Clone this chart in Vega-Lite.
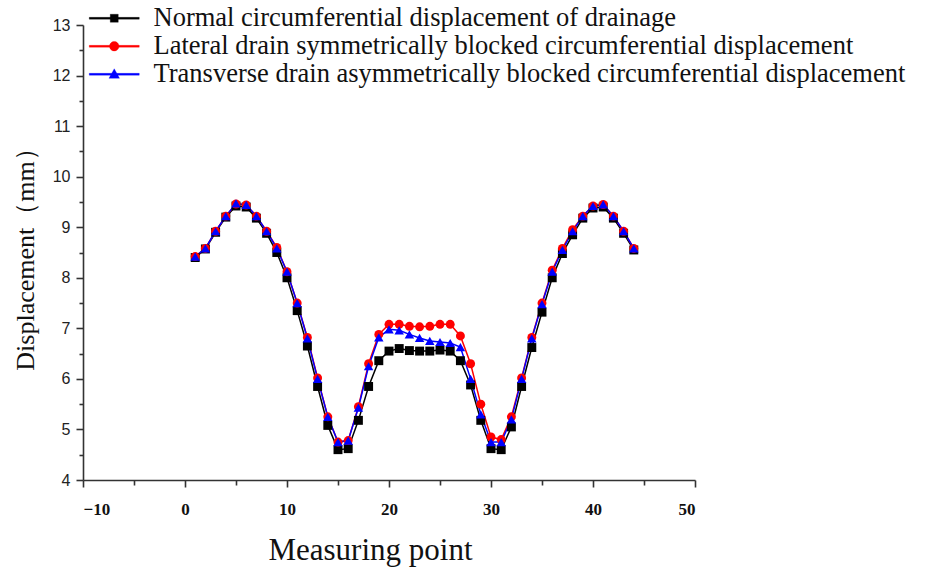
{
  "$schema": "https://vega.github.io/schema/vega-lite/v6.json",
  "width": 612,
  "height": 455,
  "autosize": {"type": "none"},
  "padding": {"left": 83, "top": 25, "right": 235, "bottom": 88},
  "background": "white",
  "config": {"view": {"stroke": null}},
  "datasets": {"d": [
    {"x":1,"s":"Normal circumferential displacement of drainage","y":8.4},
    {"x":2,"s":"Normal circumferential displacement of drainage","y":8.57},
    {"x":3,"s":"Normal circumferential displacement of drainage","y":8.9},
    {"x":4,"s":"Normal circumferential displacement of drainage","y":9.2},
    {"x":5,"s":"Normal circumferential displacement of drainage","y":9.42},
    {"x":6,"s":"Normal circumferential displacement of drainage","y":9.4},
    {"x":7,"s":"Normal circumferential displacement of drainage","y":9.18},
    {"x":8,"s":"Normal circumferential displacement of drainage","y":8.88},
    {"x":9,"s":"Normal circumferential displacement of drainage","y":8.5},
    {"x":10,"s":"Normal circumferential displacement of drainage","y":8.0},
    {"x":11,"s":"Normal circumferential displacement of drainage","y":7.35},
    {"x":12,"s":"Normal circumferential displacement of drainage","y":6.65},
    {"x":13,"s":"Normal circumferential displacement of drainage","y":5.85},
    {"x":14,"s":"Normal circumferential displacement of drainage","y":5.08},
    {"x":15,"s":"Normal circumferential displacement of drainage","y":4.6},
    {"x":16,"s":"Normal circumferential displacement of drainage","y":4.62},
    {"x":17,"s":"Normal circumferential displacement of drainage","y":5.18},
    {"x":18,"s":"Normal circumferential displacement of drainage","y":5.85},
    {"x":19,"s":"Normal circumferential displacement of drainage","y":6.36},
    {"x":20,"s":"Normal circumferential displacement of drainage","y":6.55},
    {"x":21,"s":"Normal circumferential displacement of drainage","y":6.6},
    {"x":22,"s":"Normal circumferential displacement of drainage","y":6.56},
    {"x":23,"s":"Normal circumferential displacement of drainage","y":6.55},
    {"x":24,"s":"Normal circumferential displacement of drainage","y":6.55},
    {"x":25,"s":"Normal circumferential displacement of drainage","y":6.57},
    {"x":26,"s":"Normal circumferential displacement of drainage","y":6.55},
    {"x":27,"s":"Normal circumferential displacement of drainage","y":6.36},
    {"x":28,"s":"Normal circumferential displacement of drainage","y":5.88},
    {"x":29,"s":"Normal circumferential displacement of drainage","y":5.18},
    {"x":30,"s":"Normal circumferential displacement of drainage","y":4.62},
    {"x":31,"s":"Normal circumferential displacement of drainage","y":4.6},
    {"x":32,"s":"Normal circumferential displacement of drainage","y":5.05},
    {"x":33,"s":"Normal circumferential displacement of drainage","y":5.85},
    {"x":34,"s":"Normal circumferential displacement of drainage","y":6.62},
    {"x":35,"s":"Normal circumferential displacement of drainage","y":7.32},
    {"x":36,"s":"Normal circumferential displacement of drainage","y":8.0},
    {"x":37,"s":"Normal circumferential displacement of drainage","y":8.48},
    {"x":38,"s":"Normal circumferential displacement of drainage","y":8.85},
    {"x":39,"s":"Normal circumferential displacement of drainage","y":9.18},
    {"x":40,"s":"Normal circumferential displacement of drainage","y":9.38},
    {"x":41,"s":"Normal circumferential displacement of drainage","y":9.4},
    {"x":42,"s":"Normal circumferential displacement of drainage","y":9.18},
    {"x":43,"s":"Normal circumferential displacement of drainage","y":8.88},
    {"x":44,"s":"Normal circumferential displacement of drainage","y":8.55},
    {"x":1,"s":"Lateral drain symmetrically blocked circumferential displacement","y":8.42},
    {"x":2,"s":"Lateral drain symmetrically blocked circumferential displacement","y":8.58},
    {"x":3,"s":"Lateral drain symmetrically blocked circumferential displacement","y":8.92},
    {"x":4,"s":"Lateral drain symmetrically blocked circumferential displacement","y":9.22},
    {"x":5,"s":"Lateral drain symmetrically blocked circumferential displacement","y":9.46},
    {"x":6,"s":"Lateral drain symmetrically blocked circumferential displacement","y":9.44},
    {"x":7,"s":"Lateral drain symmetrically blocked circumferential displacement","y":9.22},
    {"x":8,"s":"Lateral drain symmetrically blocked circumferential displacement","y":8.92},
    {"x":9,"s":"Lateral drain symmetrically blocked circumferential displacement","y":8.6},
    {"x":10,"s":"Lateral drain symmetrically blocked circumferential displacement","y":8.12},
    {"x":11,"s":"Lateral drain symmetrically blocked circumferential displacement","y":7.5},
    {"x":12,"s":"Lateral drain symmetrically blocked circumferential displacement","y":6.82},
    {"x":13,"s":"Lateral drain symmetrically blocked circumferential displacement","y":6.02},
    {"x":14,"s":"Lateral drain symmetrically blocked circumferential displacement","y":5.25},
    {"x":15,"s":"Lateral drain symmetrically blocked circumferential displacement","y":4.75},
    {"x":16,"s":"Lateral drain symmetrically blocked circumferential displacement","y":4.78},
    {"x":17,"s":"Lateral drain symmetrically blocked circumferential displacement","y":5.45},
    {"x":18,"s":"Lateral drain symmetrically blocked circumferential displacement","y":6.3},
    {"x":19,"s":"Lateral drain symmetrically blocked circumferential displacement","y":6.88},
    {"x":20,"s":"Lateral drain symmetrically blocked circumferential displacement","y":7.08},
    {"x":21,"s":"Lateral drain symmetrically blocked circumferential displacement","y":7.08},
    {"x":22,"s":"Lateral drain symmetrically blocked circumferential displacement","y":7.04},
    {"x":23,"s":"Lateral drain symmetrically blocked circumferential displacement","y":7.03},
    {"x":24,"s":"Lateral drain symmetrically blocked circumferential displacement","y":7.04},
    {"x":25,"s":"Lateral drain symmetrically blocked circumferential displacement","y":7.08},
    {"x":26,"s":"Lateral drain symmetrically blocked circumferential displacement","y":7.08},
    {"x":27,"s":"Lateral drain symmetrically blocked circumferential displacement","y":6.85},
    {"x":28,"s":"Lateral drain symmetrically blocked circumferential displacement","y":6.3},
    {"x":29,"s":"Lateral drain symmetrically blocked circumferential displacement","y":5.5},
    {"x":30,"s":"Lateral drain symmetrically blocked circumferential displacement","y":4.85},
    {"x":31,"s":"Lateral drain symmetrically blocked circumferential displacement","y":4.8},
    {"x":32,"s":"Lateral drain symmetrically blocked circumferential displacement","y":5.25},
    {"x":33,"s":"Lateral drain symmetrically blocked circumferential displacement","y":6.02},
    {"x":34,"s":"Lateral drain symmetrically blocked circumferential displacement","y":6.82},
    {"x":35,"s":"Lateral drain symmetrically blocked circumferential displacement","y":7.5},
    {"x":36,"s":"Lateral drain symmetrically blocked circumferential displacement","y":8.15},
    {"x":37,"s":"Lateral drain symmetrically blocked circumferential displacement","y":8.58},
    {"x":38,"s":"Lateral drain symmetrically blocked circumferential displacement","y":8.95},
    {"x":39,"s":"Lateral drain symmetrically blocked circumferential displacement","y":9.22},
    {"x":40,"s":"Lateral drain symmetrically blocked circumferential displacement","y":9.42},
    {"x":41,"s":"Lateral drain symmetrically blocked circumferential displacement","y":9.45},
    {"x":42,"s":"Lateral drain symmetrically blocked circumferential displacement","y":9.22},
    {"x":43,"s":"Lateral drain symmetrically blocked circumferential displacement","y":8.92},
    {"x":44,"s":"Lateral drain symmetrically blocked circumferential displacement","y":8.58},
    {"x":1,"s":"Transverse drain asymmetrically blocked circumferential displacement","y":8.42},
    {"x":2,"s":"Transverse drain asymmetrically blocked circumferential displacement","y":8.58},
    {"x":3,"s":"Transverse drain asymmetrically blocked circumferential displacement","y":8.92},
    {"x":4,"s":"Transverse drain asymmetrically blocked circumferential displacement","y":9.22},
    {"x":5,"s":"Transverse drain asymmetrically blocked circumferential displacement","y":9.47},
    {"x":6,"s":"Transverse drain asymmetrically blocked circumferential displacement","y":9.44},
    {"x":7,"s":"Transverse drain asymmetrically blocked circumferential displacement","y":9.22},
    {"x":8,"s":"Transverse drain asymmetrically blocked circumferential displacement","y":8.92},
    {"x":9,"s":"Transverse drain asymmetrically blocked circumferential displacement","y":8.58},
    {"x":10,"s":"Transverse drain asymmetrically blocked circumferential displacement","y":8.12},
    {"x":11,"s":"Transverse drain asymmetrically blocked circumferential displacement","y":7.5},
    {"x":12,"s":"Transverse drain asymmetrically blocked circumferential displacement","y":6.8},
    {"x":13,"s":"Transverse drain asymmetrically blocked circumferential displacement","y":6.0},
    {"x":14,"s":"Transverse drain asymmetrically blocked circumferential displacement","y":5.25},
    {"x":15,"s":"Transverse drain asymmetrically blocked circumferential displacement","y":4.75},
    {"x":16,"s":"Transverse drain asymmetrically blocked circumferential displacement","y":4.78},
    {"x":17,"s":"Transverse drain asymmetrically blocked circumferential displacement","y":5.43},
    {"x":18,"s":"Transverse drain asymmetrically blocked circumferential displacement","y":6.25},
    {"x":19,"s":"Transverse drain asymmetrically blocked circumferential displacement","y":6.82},
    {"x":20,"s":"Transverse drain asymmetrically blocked circumferential displacement","y":6.98},
    {"x":21,"s":"Transverse drain asymmetrically blocked circumferential displacement","y":6.96},
    {"x":22,"s":"Transverse drain asymmetrically blocked circumferential displacement","y":6.88},
    {"x":23,"s":"Transverse drain asymmetrically blocked circumferential displacement","y":6.81},
    {"x":24,"s":"Transverse drain asymmetrically blocked circumferential displacement","y":6.75},
    {"x":25,"s":"Transverse drain asymmetrically blocked circumferential displacement","y":6.73},
    {"x":26,"s":"Transverse drain asymmetrically blocked circumferential displacement","y":6.71},
    {"x":27,"s":"Transverse drain asymmetrically blocked circumferential displacement","y":6.63},
    {"x":28,"s":"Transverse drain asymmetrically blocked circumferential displacement","y":6.0},
    {"x":29,"s":"Transverse drain asymmetrically blocked circumferential displacement","y":5.3},
    {"x":30,"s":"Transverse drain asymmetrically blocked circumferential displacement","y":4.75},
    {"x":31,"s":"Transverse drain asymmetrically blocked circumferential displacement","y":4.75},
    {"x":32,"s":"Transverse drain asymmetrically blocked circumferential displacement","y":5.2},
    {"x":33,"s":"Transverse drain asymmetrically blocked circumferential displacement","y":6.0},
    {"x":34,"s":"Transverse drain asymmetrically blocked circumferential displacement","y":6.8},
    {"x":35,"s":"Transverse drain asymmetrically blocked circumferential displacement","y":7.48},
    {"x":36,"s":"Transverse drain asymmetrically blocked circumferential displacement","y":8.12},
    {"x":37,"s":"Transverse drain asymmetrically blocked circumferential displacement","y":8.55},
    {"x":38,"s":"Transverse drain asymmetrically blocked circumferential displacement","y":8.92},
    {"x":39,"s":"Transverse drain asymmetrically blocked circumferential displacement","y":9.22},
    {"x":40,"s":"Transverse drain asymmetrically blocked circumferential displacement","y":9.42},
    {"x":41,"s":"Transverse drain asymmetrically blocked circumferential displacement","y":9.45},
    {"x":42,"s":"Transverse drain asymmetrically blocked circumferential displacement","y":9.22},
    {"x":43,"s":"Transverse drain asymmetrically blocked circumferential displacement","y":8.92},
    {"x":44,"s":"Transverse drain asymmetrically blocked circumferential displacement","y":8.58}
  ]},
  "data": {"name": "d"},
  "encoding": {
    "x": {"field": "x", "type": "quantitative",
      "scale": {"domain": [-10, 50], "nice": false, "zero": false},
      "axis": {
        "title": "Measuring point",
        "titleFont": "Liberation Serif", "titleFontSize": 31, "titleFontWeight": "normal", "titleColor": "#111",
        "titlePadding": 18, "titleX": 287,
        "values": [-10,-5,0,5,10,15,20,25,30,35,40,45,50],
        "labelExpr": "datum.value % 10 === 0 ? format(datum.value, 'd') : ''",
        "labelFont": "Liberation Serif", "labelFontSize": 17, "labelFontWeight": "bold", "labelColor": "#111",
        "labelPadding": 14,
        "grid": false,
        "domainColor": "#333", "domainWidth": 1.6,
        "tickColor": "#333", "tickWidth": 1.6,
        "tickSize": {"condition": {"test": "datum.value % 10 === 0", "value": 7}, "value": 5}
      }
    },
    "y": {"field": "y", "type": "quantitative",
      "scale": {"domain": [4, 13], "nice": false, "zero": false},
      "axis": {
        "title": "Displacement（mm）",
        "titleFont": "Liberation Serif", "titleFontSize": 26, "titleFontWeight": "normal", "titleColor": "#111",
        "titlePadding": 14,
        "values": [4,4.5,5,5.5,6,6.5,7,7.5,8,8.5,9,9.5,10,10.5,11,11.5,12,12.5,13],
        "labelExpr": "datum.value % 1 === 0 ? format(datum.value, 'd') : ''",
        "labelFont": "Liberation Sans", "labelFontSize": 16, "labelColor": "#222",
        "labelPadding": 6,
        "grid": false,
        "domainColor": "#333", "domainWidth": 1.6,
        "tickColor": "#333", "tickWidth": 1.6,
        "tickSize": {"condition": {"test": "datum.value % 1 === 0", "value": 7}, "value": 4}
      }
    },
    "color": {"field": "s", "type": "nominal",
      "scale": {
        "domain": ["Normal circumferential displacement of drainage", "Lateral drain symmetrically blocked circumferential displacement", "Transverse drain asymmetrically blocked circumferential displacement"],
        "range": ["#000000", "#ff0000", "#0000ff"]
      },
      "legend": {
        "orient": "none", "legendX": 18, "legendY": -20,
        "title": null, "padding": 0,
        "labelFont": "Liberation Serif", "labelFontSize": 26.5, "labelColor": "#111", "labelLimit": 1000,
        "labelOffset": 26, "rowPadding": 1,
        "symbolSize": 100,
        "encode": {"symbols": {"update": {
          "shape": {"signal": "datum.index === 0 ? 'M-5,-0.18H5V0.18H-5Z M-0.8,-0.8H0.8V0.8H-0.8Z' : datum.index === 1 ? 'M-5,-0.18H5V0.18H-5Z M-0.95,0A0.95,0.95 0 1,1 0.95,0A0.95,0.95 0 1,1 -0.95,0Z' : 'M-5,-0.18H5V0.18H-5Z M0,-1.1L1.05,0.8H-1.05Z'"},
          "fill": {"scale": "color", "field": "value"},
          "stroke": {"scale": "color", "field": "value"},
          "strokeWidth": {"value": 0.3},
          "fillOpacity": {"value": 1},
          "opacity": {"value": 1}
        }}}
      }
    }
  },
  "layer": [
    {"mark": {"type": "line", "strokeWidth": 1.5}},
    {"transform": [{"filter": "datum.s === 'Normal circumferential displacement of drainage'"}],
      "mark": {"type": "point", "shape": "square", "filled": true, "opacity": 1, "size": 80}},
    {"transform": [{"filter": "datum.s === 'Lateral drain symmetrically blocked circumferential displacement'"}],
      "mark": {"type": "point", "shape": "circle", "filled": true, "opacity": 1, "size": 80}},
    {"transform": [{"filter": "datum.s === 'Transverse drain asymmetrically blocked circumferential displacement'"}],
      "mark": {"type": "point", "shape": "triangle-up", "filled": true, "opacity": 1, "size": 90}}
  ]
}
